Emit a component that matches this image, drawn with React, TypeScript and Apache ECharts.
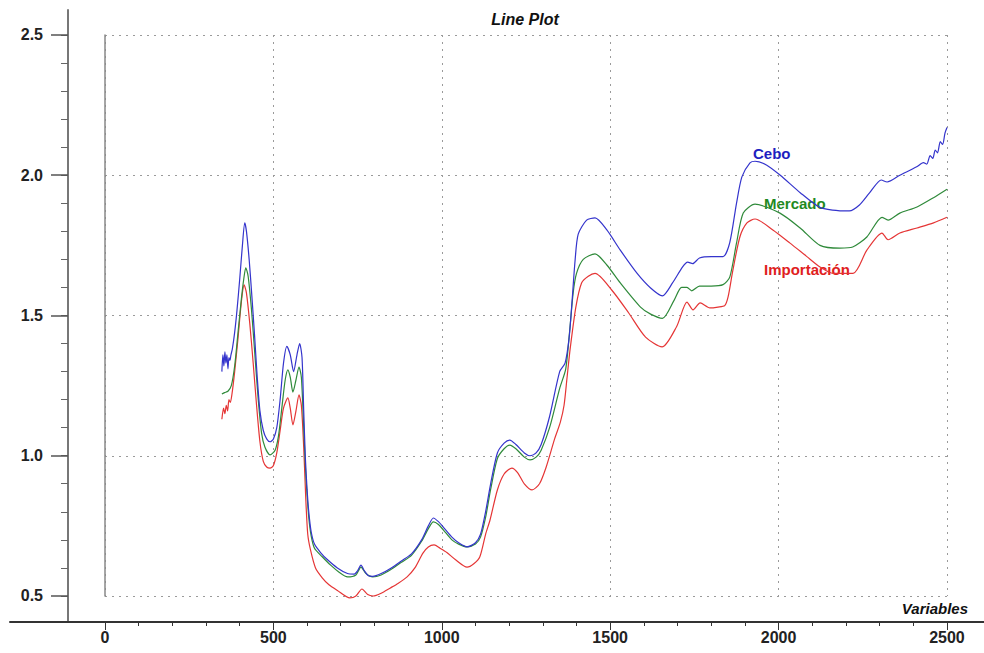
import React, { useEffect, useRef } from "react";
import * as echarts from "echarts";

// ---- Data ----
const ceboX = [347, 350, 353, 356, 359, 362, 365, 368, 371, 374, 378, 385, 392, 400, 408, 415, 420, 428, 436, 444, 452, 460, 470, 480, 490, 500, 510, 520, 530, 540, 550, 560, 570, 578, 585, 590, 595, 600, 605, 612, 622, 640, 660, 690, 720, 740, 750, 760, 770, 782, 795, 820, 850, 880, 910, 940, 960, 975, 990, 1005, 1030, 1050, 1075, 1100, 1115, 1130, 1145, 1165, 1185, 1202, 1220, 1245, 1262, 1280, 1295, 1320, 1350, 1366, 1378, 1387, 1396, 1405, 1430, 1455, 1490, 1530, 1580, 1620, 1655, 1685, 1715, 1730, 1745, 1765, 1800, 1835, 1855, 1875, 1891, 1915, 1930, 1965, 2005, 2065, 2120, 2160, 2210, 2240, 2270, 2305, 2322, 2360, 2410, 2430, 2440, 2450, 2458, 2465, 2472, 2480, 2487, 2494, 2500];
const ceboY = [1.30, 1.36, 1.32, 1.37, 1.33, 1.36, 1.31, 1.35, 1.34, 1.36, 1.38, 1.44, 1.52, 1.63, 1.75, 1.83, 1.80, 1.70, 1.57, 1.43, 1.28, 1.16, 1.09, 1.06, 1.05, 1.06, 1.10, 1.20, 1.33, 1.39, 1.36, 1.30, 1.36, 1.40, 1.35, 1.16, 0.99, 0.88, 0.80, 0.73, 0.685, 0.655, 0.63, 0.60, 0.58, 0.578, 0.59, 0.61, 0.59, 0.572, 0.57, 0.58, 0.60, 0.625, 0.65, 0.70, 0.75, 0.778, 0.765, 0.745, 0.71, 0.69, 0.675, 0.69, 0.72, 0.80, 0.90, 1.01, 1.045, 1.056, 1.04, 1.01, 1.00, 1.01, 1.04, 1.14, 1.30, 1.33, 1.42, 1.555, 1.70, 1.79, 1.84, 1.848, 1.805, 1.733, 1.65, 1.598, 1.57, 1.616, 1.673, 1.69, 1.685, 1.705, 1.71, 1.71, 1.76, 1.90, 1.994, 2.044, 2.05, 2.036, 2.00, 1.937, 1.887, 1.876, 1.873, 1.894, 1.937, 1.983, 1.976, 2.00, 2.03, 2.045, 2.04, 2.07, 2.06, 2.09, 2.08, 2.12, 2.11, 2.15, 2.17];

const mercadoX = [347, 355, 365, 375, 385, 395, 405, 412, 418, 425, 435, 445, 455, 465, 475, 490, 505, 515, 525, 535, 543, 550, 558, 567, 576, 583, 590, 595, 600, 605, 612, 622, 645, 670, 695, 720, 745, 760, 775, 795, 820, 850, 880, 910, 940, 960, 975, 990, 1005, 1030, 1050, 1075, 1100, 1115, 1130, 1145, 1165, 1185, 1202, 1220, 1245, 1262, 1280, 1295, 1320, 1350, 1368, 1380, 1390, 1400, 1420, 1455, 1490, 1530, 1590, 1620, 1655, 1690, 1712, 1728, 1742, 1765, 1800, 1835, 1855, 1875, 1895, 1930, 2004, 2064, 2123, 2182, 2220, 2262, 2307, 2325, 2360, 2411, 2460, 2500];
const mercadoY = [1.22, 1.225, 1.23, 1.25, 1.32, 1.44, 1.56, 1.63, 1.67, 1.64, 1.52, 1.36, 1.20, 1.08, 1.03, 1.003, 1.02, 1.07, 1.17, 1.27, 1.306, 1.28, 1.227, 1.27, 1.316, 1.28, 1.10, 0.96, 0.86, 0.78, 0.715, 0.67, 0.64, 0.61, 0.585, 0.568, 0.575, 0.603, 0.58, 0.568, 0.575, 0.595, 0.62, 0.645, 0.695, 0.74, 0.764, 0.755, 0.735, 0.70, 0.685, 0.675, 0.685, 0.71, 0.78, 0.88, 0.99, 1.025, 1.038, 1.025, 0.995, 0.985, 0.995, 1.02, 1.10, 1.24, 1.31, 1.45, 1.58, 1.65, 1.70, 1.72, 1.68, 1.616, 1.53, 1.505, 1.49, 1.555, 1.60, 1.60, 1.588, 1.605, 1.605, 1.61, 1.637, 1.758, 1.865, 1.897, 1.865, 1.812, 1.75, 1.74, 1.744, 1.78, 1.85, 1.84, 1.865, 1.887, 1.92, 1.95];

const importacionX = [347, 352, 356, 360, 364, 368, 372, 377, 385, 395, 405, 413, 420, 430, 440, 450, 460, 470, 480, 490, 500, 510, 520, 530, 543, 550, 558, 567, 576, 583, 590, 596, 602, 610, 625, 645, 665, 690, 727, 745, 763, 780, 796, 820, 846, 870, 897, 920, 944, 960, 977, 995, 1015, 1040, 1075, 1095, 1113, 1130, 1143, 1165, 1185, 1208, 1225, 1245, 1268, 1290, 1310, 1335, 1352, 1363, 1372, 1381, 1398, 1415, 1435, 1455, 1505, 1555, 1605, 1654, 1697, 1728, 1746, 1767, 1796, 1820, 1840, 1850, 1864, 1885, 1906, 1930, 1983, 2034, 2084, 2123, 2162, 2221, 2262, 2307, 2325, 2360, 2411, 2460, 2500];
const importacionY = [1.13, 1.17, 1.15, 1.18, 1.16, 1.20, 1.19, 1.22, 1.30, 1.42, 1.55, 1.609, 1.58, 1.47, 1.33, 1.18, 1.05, 0.98, 0.96, 0.956, 0.965, 1.01, 1.09, 1.17, 1.206, 1.17, 1.11, 1.16, 1.217, 1.18, 1.03, 0.85, 0.72, 0.665, 0.60, 0.565, 0.54, 0.52, 0.493, 0.50, 0.525, 0.505, 0.50, 0.51, 0.528, 0.545, 0.568, 0.60, 0.653, 0.675, 0.682, 0.67, 0.655, 0.63, 0.603, 0.615, 0.64, 0.72, 0.77, 0.878, 0.935, 0.956, 0.94, 0.90, 0.878, 0.90, 0.96, 1.06, 1.12, 1.18, 1.28, 1.38, 1.53, 1.616, 1.64, 1.65, 1.59, 1.509, 1.423, 1.388, 1.46, 1.548, 1.52, 1.545, 1.527, 1.53, 1.535, 1.566, 1.66, 1.78, 1.83, 1.844, 1.805, 1.758, 1.71, 1.673, 1.65, 1.65, 1.733, 1.794, 1.77, 1.794, 1.812, 1.83, 1.85];

const xMajorTicks = [0, 500, 1000, 1500, 2000, 2500];
const xMinorTicks = [0, 100, 200, 300, 400, 500, 600, 700, 800, 900, 1000, 1100, 1200, 1300, 1400, 1500, 1600, 1700, 1800, 1900, 2000, 2100, 2200, 2300, 2400, 2500];
const yMajorTicks = [0.5, 1.0, 1.5, 2.0, 2.5];
const yMinorTicks = [0.5, 0.6, 0.7, 0.8, 0.9, 1.0, 1.1, 1.2, 1.3, 1.4, 1.5, 1.6, 1.7, 1.8, 1.9, 2.0, 2.1, 2.2, 2.3, 2.4, 2.5];

const seriesNames = ["Cebo", "Mercado", "Importación"];

const FONT = '"Liberation Sans", Arial, sans-serif';
const LINE_COLORS = ["#3434cc", "#2f8a3a", "#e53535"];
const TEXT_COLORS = ["#1e1ec0", "#1f8a1f", "#e02020"];

function zip(xs: number[], ys: number[]) {
  const n = Math.min(xs.length, ys.length);
  const out: number[][] = [];
  for (let i = 0; i < n; i++) out.push([xs[i], ys[i]]);
  return out;
}

export default function App() {
  const ref = useRef<HTMLDivElement>(null);

  useEffect(() => {
    if (!ref.current) return;
    const chart = echarts.init(ref.current, null, { renderer: "svg" });

    const OUT_X_MIN = -282;
    const OUT_X_MAX = 2610;
    const OUT_Y_MIN = 0.407;
    const OUT_Y_MAX = 2.589;

    const labelStyle = { color: "#222", fontFamily: FONT, fontWeight: "bold" as const, fontSize: 16 };
    const dotted = { color: "#9a9a9a", width: 1, type: [2, 5] as number[] };

    const datasets = [zip(ceboX, ceboY), zip(mercadoX, mercadoY), zip(importacionX, importacionY)];

    chart.setOption({
      animation: false,
      backgroundColor: "#fff",
      grid: [
        { left: 10, right: 0, top: 10, bottom: 31 },
        { left: 68, width: 100, top: 10, bottom: 31 },
        { left: 105, width: 842, top: 35, height: 561 },
      ],
      xAxis: [
        {
          gridIndex: 0, type: "value", position: "bottom", min: OUT_X_MIN, max: OUT_X_MAX,
          axisLine: { show: true, lineStyle: { color: "#333", width: 2 } },
          axisTick: { show: true, length: 4, customValues: xMinorTicks, lineStyle: { color: "#333", width: 1 } },
          axisLabel: { show: false },
          splitLine: { show: false },
        },
        {
          gridIndex: 0, type: "value", position: "bottom", min: OUT_X_MIN, max: OUT_X_MAX,
          axisLine: { show: false },
          axisTick: { show: true, length: 8, customValues: xMajorTicks, lineStyle: { color: "#333", width: 1 } },
          axisLabel: {
            show: true, customValues: xMajorTicks, margin: 7, ...labelStyle,
            formatter: (v: number) => String(Math.round(v)),
          },
          splitLine: { show: false },
        },
        { gridIndex: 1, type: "value", show: false },
        {
          gridIndex: 2, type: "value", min: 0, max: 2500, interval: 500,
          axisLine: { show: false }, axisTick: { show: false }, axisLabel: { show: false },
          splitLine: { show: true, lineStyle: dotted },
        },
      ],
      yAxis: [
        { gridIndex: 0, type: "value", show: false },
        {
          gridIndex: 1, type: "value", position: "left", min: OUT_Y_MIN, max: OUT_Y_MAX,
          axisLine: { show: true, lineStyle: { color: "#777", width: 2 } },
          axisTick: { show: true, length: 7, customValues: yMinorTicks, lineStyle: { color: "#666", width: 1 } },
          axisLabel: { show: false },
          splitLine: { show: false },
        },
        {
          gridIndex: 1, type: "value", position: "left", min: OUT_Y_MIN, max: OUT_Y_MAX,
          axisLine: { show: false },
          axisTick: { show: true, length: 17, customValues: yMajorTicks, lineStyle: { color: "#555", width: 1.5 } },
          axisLabel: {
            show: true, customValues: yMajorTicks, margin: 25, ...labelStyle,
            formatter: (v: number) => v.toFixed(1),
          },
          splitLine: { show: false },
        },
        {
          gridIndex: 2, type: "value", min: 0.5, max: 2.5, interval: 0.5,
          axisLine: { show: true, onZero: false, lineStyle: { color: "#888", width: 1.5 } },
          axisTick: { show: false }, axisLabel: { show: false },
          splitLine: { show: true, lineStyle: dotted },
        },
      ],
      series: datasets.map((d, i) => ({
        name: seriesNames[i],
        type: "line",
        xAxisIndex: 3,
        yAxisIndex: 3,
        data: d,
        showSymbol: false,
        symbol: "none",
        smooth: 0.25,
        clip: false,
        lineStyle: { color: LINE_COLORS[i], width: 1.2 },
        z: 5 - i,
      })),
      graphic: [
        {
          type: "text", x: 525, y: 19,
          style: { text: "Line Plot", align: "center", verticalAlign: "middle", font: `italic bold 16px ${FONT}`, fill: "#111" },
        },
        {
          type: "text", x: 968, y: 608,
          style: { text: "Variables", align: "right", verticalAlign: "middle", font: `italic bold 15px ${FONT}`, fill: "#111" },
        },
        {
          type: "text", x: 753, y: 153,
          style: { text: seriesNames[0], align: "left", verticalAlign: "middle", font: `bold 15px ${FONT}`, fill: TEXT_COLORS[0] },
        },
        {
          type: "text", x: 764, y: 203,
          style: { text: seriesNames[1], align: "left", verticalAlign: "middle", font: `bold 15px ${FONT}`, fill: TEXT_COLORS[1] },
        },
        {
          type: "text", x: 764, y: 269,
          style: { text: seriesNames[2], align: "left", verticalAlign: "middle", font: `bold 15px ${FONT}`, fill: TEXT_COLORS[2] },
        },
      ],
    });

    return () => chart.dispose();
  }, []);

  return (
    <div
      ref={ref}
      style={{ position: "fixed", left: 0, top: 0, width: 984, height: 653, background: "#fff" }}
    />
  );
}
